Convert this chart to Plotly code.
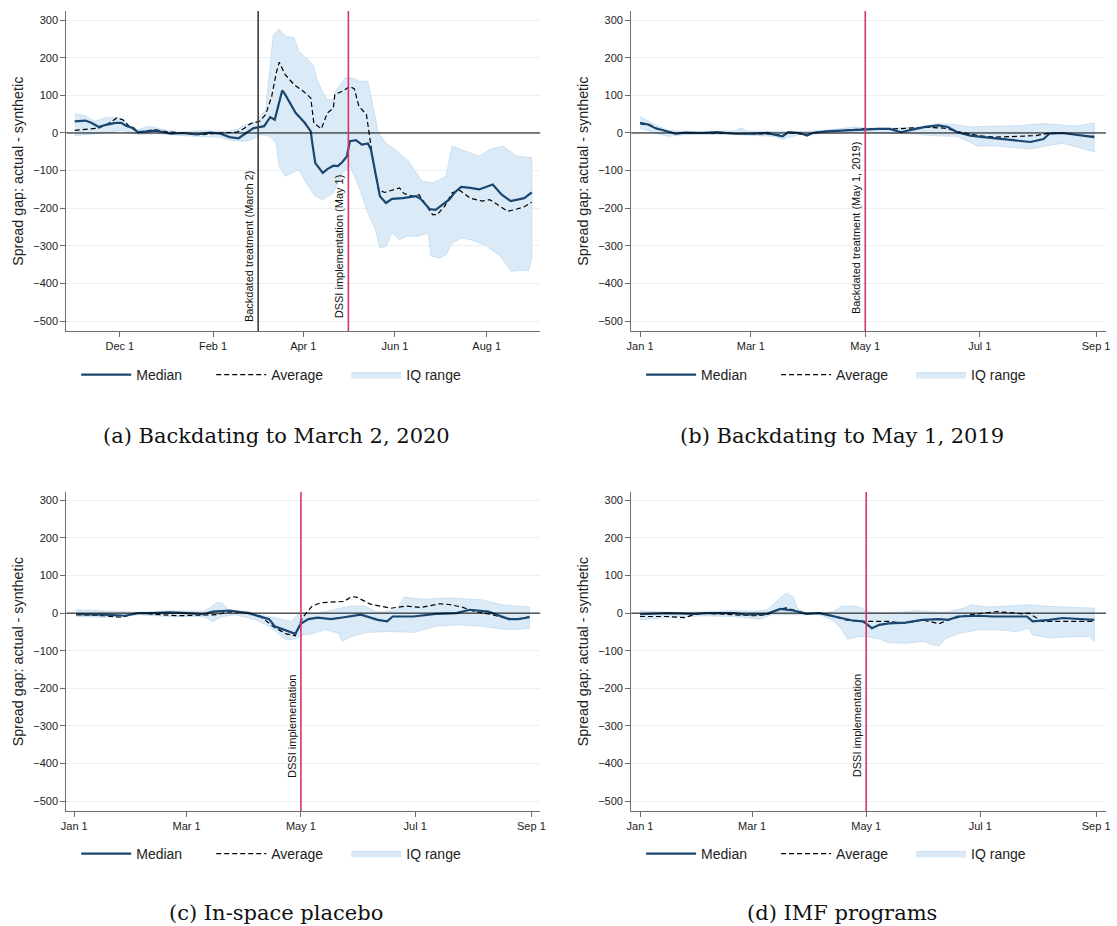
import plotly.graph_objects as go

# ---------------- DATA ----------------
# Panel (a): Backdating to March 2, 2020
a_med_dates = ["2019-11-01","2019-11-08","2019-11-12","2019-11-17","2019-11-21","2019-11-28","2019-12-02","2019-12-05",
               "2019-12-10","2019-12-13","2019-12-20","2019-12-24","2019-12-28","2020-01-04","2020-01-12","2020-01-21",
               "2020-01-30","2020-02-06","2020-02-12","2020-02-18","2020-02-23","2020-02-28","2020-03-06","2020-03-10",
               "2020-03-13","2020-03-17","2020-03-18","2020-03-20","2020-03-23","2020-03-27","2020-04-02","2020-04-06",
               "2020-04-07","2020-04-09","2020-04-14","2020-04-17","2020-04-21","2020-04-24","2020-04-27","2020-04-30",
               "2020-05-02","2020-05-06","2020-05-10","2020-05-14","2020-05-16","2020-05-19","2020-05-22","2020-05-26",
               "2020-05-30","2020-06-06","2020-06-10","2020-06-15","2020-06-18","2020-06-24","2020-06-28","2020-07-03",
               "2020-07-07","2020-07-11","2020-07-15","2020-07-21","2020-07-27","2020-08-05","2020-08-11","2020-08-17",
               "2020-08-21","2020-08-26","2020-08-31"]
a_med = [31, 33, 27, 16, 21, 27, 27, 19, 13, 2, 4, 6, 4, -2, 0, -4, 1, -2, -11, -14, 0, 13, 18, 42, 35, 97, 113, 102,
         80, 53, 27, 4, -27, -80, -106, -96, -87, -88, -77, -62, -22, -19, -31, -28, -44, -106, -168, -186, -175, -173,
         -171, -168, -175, -202, -204, -188, -177, -157, -143, -146, -150, -137, -164, -181, -177, -173, -158]

a_avg_dates = ["2019-11-01","2019-11-12","2019-11-17","2019-11-23","2019-11-29","2019-12-03","2019-12-07","2019-12-13",
               "2019-12-24","2019-12-31","2020-01-09","2020-01-24","2020-02-06","2020-02-17","2020-02-22","2020-02-26",
               "2020-03-03","2020-03-07","2020-03-11","2020-03-14","2020-03-16","2020-03-20","2020-03-26","2020-04-01",
               "2020-04-06","2020-04-08","2020-04-13","2020-04-17","2020-04-21","2020-04-22","2020-04-27","2020-05-02",
               "2020-05-05","2020-05-08","2020-05-13","2020-05-15","2020-05-18","2020-05-21","2020-05-25","2020-05-30",
               "2020-06-04","2020-06-07","2020-06-13","2020-06-17","2020-06-22","2020-06-26","2020-06-29","2020-07-04",
               "2020-07-09","2020-07-14","2020-07-21","2020-07-29","2020-08-03","2020-08-09","2020-08-15","2020-08-21",
               "2020-08-26","2020-08-31"]
a_avg = [7, 11, 13, 24, 40, 35, 18, 2, 9, 4, 0, -5, 0, 2, 13, 25, 31, 49, 97, 159, 188, 155, 128, 111, 93, 27, 11, 53,
         66, 102, 111, 124, 117, 71, 49, -9, -88, -150, -158, -152, -146, -161, -168, -164, -195, -217, -217, -195,
         -159, -152, -173, -181, -177, -193, -208, -202, -196, -184]

a_iq_hi_dates = ["2019-11-01","2019-11-08","2019-11-14","2019-11-21","2019-11-28","2019-12-04","2019-12-11","2019-12-20",
                 "2019-12-28","2020-01-09","2020-01-26","2020-02-08","2020-02-17","2020-02-22","2020-03-01","2020-03-07",
                 "2020-03-10","2020-03-12","2020-03-16","2020-03-20","2020-03-26","2020-03-29","2020-04-04","2020-04-08",
                 "2020-04-10","2020-04-14","2020-04-17","2020-04-21","2020-04-23","2020-04-29","2020-05-04","2020-05-08",
                 "2020-05-14","2020-05-17","2020-05-21","2020-05-26","2020-06-01","2020-06-10","2020-06-19","2020-06-26",
                 "2020-07-05","2020-07-09","2020-07-18","2020-07-27","2020-08-03","2020-08-12","2020-08-21","2020-08-31"]
a_iq_hi = [51, 46, 31, 40, 42, 35, 6, 18, 11, 2, 6, 4, 9, 22, 31, 62, 177, 260, 276, 257, 252, 217, 195, 177, 142, 108,
           88, 88, 115, 146, 146, 137, 137, 80, 0, -27, -44, -75, -128, -133, -115, -35, -49, -62, -44, -35, -62, -66]

a_iq_lo_dates = ["2019-11-01","2019-11-12","2019-11-21","2019-12-02","2019-12-09","2019-12-13","2019-12-24","2020-01-04",
                 "2020-01-21","2020-02-06","2020-02-12","2020-02-21","2020-02-27","2020-03-03","2020-03-10","2020-03-14",
                 "2020-03-16","2020-03-20","2020-03-25","2020-03-29","2020-04-03","2020-04-09","2020-04-14","2020-04-21",
                 "2020-04-27","2020-05-02","2020-05-08","2020-05-14","2020-05-19","2020-05-22","2020-05-26","2020-05-30",
                 "2020-06-04","2020-06-09","2020-06-17","2020-06-23","2020-06-25","2020-07-01","2020-07-05","2020-07-09",
                 "2020-07-15","2020-07-23","2020-08-01","2020-08-10","2020-08-17","2020-08-23","2020-08-29","2020-08-31"]
a_iq_lo = [-7, -4, 0, 7, 0, -4, -2, -4, -9, -11, -19, -22, -18, -4, -9, -27, -88, -115, -106, -97, -133, -168, -177,
           -159, -106, -88, -142, -212, -257, -305, -301, -265, -283, -274, -274, -265, -327, -332, -323, -292, -279,
           -285, -301, -327, -367, -365, -365, -332]

# Panel (b): Backdating to May 1, 2019
b_med_dates = ["2019-01-01","2019-01-06","2019-01-09","2019-01-15","2019-01-20","2019-01-25","2019-02-03","2019-02-11",
               "2019-02-20","2019-03-01","2019-03-10","2019-03-13","2019-03-18","2019-03-21","2019-03-27","2019-03-31",
               "2019-04-03","2019-04-10","2019-04-21","2019-04-30","2019-05-08","2019-05-14","2019-05-20","2019-05-26",
               "2019-06-02","2019-06-09","2019-06-14","2019-06-19","2019-06-26","2019-07-03","2019-07-14","2019-07-23",
               "2019-07-28","2019-08-04","2019-08-07","2019-08-14","2019-08-21","2019-08-31"]
b_med = [27, 22, 13, 4, -2, 1, 0, 2, -2, -2, 0, -4, -9, 2, 0, -7, 0, 4, 7, 9, 11, 11, 2, 9, 16, 20, 16, 2, -7, -11,
         -16, -22, -24, -16, -2, 0, -4, -11]

b_avg_dates = ["2019-01-01","2019-01-06","2019-01-09","2019-01-15","2019-01-20","2019-02-03","2019-02-20","2019-03-01",
               "2019-03-13","2019-03-18","2019-03-21","2019-03-31","2019-04-03","2019-04-17","2019-04-30","2019-05-17",
               "2019-06-02","2019-06-12","2019-06-19","2019-06-30","2019-07-09","2019-07-21","2019-07-31","2019-08-07",
               "2019-08-14","2019-08-21","2019-08-31"]
b_avg = [25, 20, 12, 4, -1, 0, -1, -1, -3, -7, 1, -5, 1, 6, 11, 11, 15, 13, 4, -7, -11, -9, -7, 0, 0, -4, -9]

b_iq_hi_dates = ["2019-01-01","2019-01-09","2019-01-16","2019-01-25","2019-02-20","2019-02-24","2019-02-27","2019-03-13",
                 "2019-03-27","2019-04-10","2019-04-26","2019-05-01","2019-05-17","2019-05-30","2019-06-09","2019-06-18",
                 "2019-06-26","2019-07-07","2019-07-21","2019-08-04","2019-08-21","2019-08-31"]
b_iq_hi = [44, 22, 7, 4, 5, 13, 5, 4, 4, 7, 16, 13, 13, 16, 25, 22, 16, 18, 19, 25, 18, 27]

b_iq_lo_dates = ["2019-01-01","2019-01-09","2019-01-16","2019-01-25","2019-02-20","2019-03-13","2019-03-18","2019-03-27",
                 "2019-04-26","2019-05-01","2019-05-26","2019-06-05","2019-06-19","2019-06-30","2019-07-09","2019-07-21",
                 "2019-07-28","2019-08-04","2019-08-14","2019-08-31"]
b_iq_lo = [13, 0, -9, -4, -4, -9, -16, -4, 0, 0, -2, -7, -9, -35, -34, -40, -42, -35, -27, -50]

# Panel (c): In-space placebo
c_med_dates = ["2020-01-02","2020-01-17","2020-01-28","2020-02-04","2020-02-12","2020-02-21","2020-03-01","2020-03-10",
               "2020-03-15","2020-03-24","2020-04-03","2020-04-09","2020-04-14","2020-04-17","2020-04-23","2020-04-28",
               "2020-05-01","2020-05-05","2020-05-10","2020-05-17","2020-05-24","2020-06-02","2020-06-11","2020-06-16",
               "2020-06-19","2020-06-30","2020-07-12","2020-07-23","2020-07-30","2020-08-09","2020-08-20","2020-08-25",
               "2020-08-31"]
c_med = [-3, -4, -7, 0, 0, 2, 0, -3, 4, 7, 0, -9, -16, -35, -46, -55, -28, -16, -12, -16, -11, -4, -18, -22, -9, -9,
         -2, 0, 9, 4, -16, -16, -11]

c_avg_dates = ["2020-01-02","2020-01-17","2020-01-26","2020-02-04","2020-02-25","2020-03-10","2020-03-17","2020-03-24",
               "2020-04-03","2020-04-09","2020-04-16","2020-04-23","2020-04-28","2020-05-01","2020-05-03","2020-05-07",
               "2020-05-12","2020-05-24","2020-05-28","2020-05-31","2020-06-07","2020-06-18","2020-06-26","2020-07-04",
               "2020-07-14","2020-07-19","2020-07-26","2020-08-02","2020-08-11","2020-08-18","2020-08-25","2020-08-31"]
c_avg = [-4, -7, -11, 0, -7, -4, -4, 4, 0, -7, -35, -55, -60, -20, -5, 19, 28, 31, 44, 42, 24, 13, 19, 15, 25, 23, 16,
         4, -4, -13, -16, -9]

c_iq_hi_dates = ["2020-01-02","2020-01-17","2020-02-04","2020-02-21","2020-03-10","2020-03-13","2020-03-17","2020-03-20",
                 "2020-03-24","2020-04-03","2020-04-07","2020-04-14","2020-04-21","2020-04-26","2020-04-30","2020-05-01",
                 "2020-05-10","2020-05-28","2020-06-04","2020-06-11","2020-06-21","2020-06-25","2020-07-05","2020-07-19",
                 "2020-08-06","2020-08-16","2020-08-31"]
c_iq_hi = [9, 5, 2, 6, 5, 13, 28, 27, 4, 5, -4, -9, -16, -22, 0, -4, 0, 19, 19, 2, 9, 42, 37, 40, 35, 22, 16]

c_iq_lo_dates = ["2020-01-02","2020-01-17","2020-02-04","2020-02-21","2020-03-10","2020-03-15","2020-03-20","2020-03-27",
                 "2020-04-07","2020-04-14","2020-04-23","2020-04-28","2020-05-01","2020-05-07","2020-05-14","2020-05-21",
                 "2020-05-23","2020-05-28","2020-06-05","2020-06-18","2020-06-30","2020-07-12","2020-07-23","2020-08-06",
                 "2020-08-16","2020-08-23","2020-08-31"]
c_iq_lo = [-9, -11, -4, -9, -9, -22, -9, -4, -18, -35, -71, -69, -58, -55, -44, -53, -75, -62, -51, -49, -51, -35, -31,
           -35, -42, -44, -40]

# Panel (d): IMF programs
d_med_dates = ["2020-01-01","2020-01-16","2020-01-30","2020-02-06","2020-02-20","2020-02-27","2020-03-09","2020-03-16",
               "2020-03-23","2020-03-30","2020-04-06","2020-04-13","2020-04-18","2020-04-23","2020-04-29","2020-05-01",
               "2020-05-04","2020-05-08","2020-05-13","2020-05-22","2020-05-31","2020-06-09","2020-06-14","2020-06-19",
               "2020-06-30","2020-07-08","2020-07-26","2020-07-29","2020-08-07","2020-08-14","2020-08-31"]
d_med = [-3, 0, -2, 0, 0, -4, -2, 11, 7, -2, 0, -7, -13, -19, -22, -28, -40, -31, -27, -25, -18, -16, -18, -9, -7, -9,
         -9, -22, -18, -13, -18]

d_avg_dates = ["2020-01-01","2020-01-16","2020-01-25","2020-01-30","2020-02-04","2020-02-20","2020-03-02","2020-03-09",
               "2020-03-14","2020-03-19","2020-03-26","2020-03-30","2020-04-06","2020-04-13","2020-04-20","2020-04-27",
               "2020-05-01","2020-05-13","2020-05-22","2020-05-31","2020-06-09","2020-06-15","2020-06-26","2020-07-03",
               "2020-07-10","2020-07-24","2020-07-27","2020-08-03","2020-08-14","2020-08-31"]
d_avg = [-9, -9, -12, -4, 0, -3, -7, -4, 7, 14, 4, -2, 0, -7, -18, -22, -22, -22, -27, -18, -28, -16, -4, 0, 4, -2,
         0, -22, -22, -22]

d_iq_hi_dates = ["2020-01-01","2020-01-16","2020-02-04","2020-02-20","2020-03-02","2020-03-09","2020-03-12","2020-03-19",
                 "2020-03-23","2020-03-25","2020-03-30","2020-04-06","2020-04-13","2020-04-18","2020-04-25","2020-04-29",
                 "2020-05-01","2020-05-08","2020-05-18","2020-05-29","2020-06-09","2020-06-14","2020-06-22","2020-06-26",
                 "2020-07-06","2020-07-20","2020-07-27","2020-08-07","2020-08-21","2020-08-31"]
d_iq_hi = [6, 2, 3, 7, 5, 9, 22, 53, 44, 13, 2, 0, 4, 18, 19, 13, 4, 0, 2, 7, 2, 4, 13, 22, 16, 19, 22, 18, 16, 13]

d_iq_lo_dates = ["2020-01-01","2020-01-16","2020-02-04","2020-02-20","2020-03-05","2020-03-12","2020-03-26","2020-04-06",
                 "2020-04-13","2020-04-18","2020-04-21","2020-04-27","2020-05-01","2020-05-08","2020-05-13","2020-05-22",
                 "2020-06-01","2020-06-05","2020-06-09","2020-06-12","2020-06-19","2020-06-30","2020-07-10","2020-07-20",
                 "2020-07-27","2020-07-29","2020-08-07","2020-08-21","2020-08-28","2020-08-31"]
d_iq_lo = [-18, -11, -7, -9, -16, -4, -4, -4, -18, -44, -69, -62, -62, -69, -78, -80, -75, -84, -87, -69, -55, -44,
           -44, -49, -40, -58, -66, -62, -62, -75]

# Axis ticks
a_tick_dates = ["2019-12-01", "2020-02-01", "2020-04-01", "2020-06-01", "2020-08-01"]
a_tick_labels = ["Dec 1", "Feb 1", "Apr 1", "Jun 1", "Aug 1"]
b_tick_dates = ["2019-01-01", "2019-03-01", "2019-05-01", "2019-07-01", "2019-09-01"]
cd_tick_dates = ["2020-01-01", "2020-03-01", "2020-05-01", "2020-07-01", "2020-09-01"]
bcd_tick_labels = ["Jan 1", "Mar 1", "May 1", "Jul 1", "Sep 1"]
y_tick_vals = [-500, -400, -300, -200, -100, 0, 100, 200, 300]

captions = ["(a) Backdating to March 2, 2020", "(b) Backdating to May 1, 2019",
            "(c) In-space placebo", "(d) IMF programs"]

# ---------------- STYLE ----------------
W, H = 1117, 926
MED_C = "#1a476f"
FILL_C = "#dbeaf7"
EDGE_C = "#c2dbf0"
RED_C = "#d8336b"
GRID_C = "#e9f1f3"
AXIS_C = "#6e6e6e"
SANS = "Liberation Sans, Arial, sans-serif"

def px(v, total):
    return v / total

xdom = {"L": [px(61, W), px(540, W)], "R": [px(632, W), px(1112, W)]}
ydom = {"T": [1 - px(331, H), 1 - px(11, H)], "B": [1 - px(811, H), 1 - px(492, H)]}

panels = [
    dict(med=(a_med_dates, a_med), avg=(a_avg_dates, a_avg), hi=(a_iq_hi_dates, a_iq_hi), lo=(a_iq_lo_dates, a_iq_lo),
         ticks=(a_tick_dates, a_tick_labels), xr=["2019-10-26 10:00", "2020-09-05 14:00"], yr=[-526, 324],
         xd="L", yd="T"),
    dict(med=(b_med_dates, b_med), avg=(b_avg_dates, b_avg), hi=(b_iq_hi_dates, b_iq_hi), lo=(b_iq_lo_dates, b_iq_lo),
         ticks=(b_tick_dates, bcd_tick_labels), xr=["2018-12-27 07:00", "2019-09-06 07:00"], yr=[-526, 324],
         xd="R", yd="T"),
    dict(med=(c_med_dates, c_med), avg=(c_avg_dates, c_avg), hi=(c_iq_hi_dates, c_iq_hi), lo=(c_iq_lo_dates, c_iq_lo),
         ticks=(cd_tick_dates, bcd_tick_labels), xr=["2019-12-27 19:00", "2020-09-05 17:00"], yr=[-526, 322],
         xd="L", yd="B"),
    dict(med=(d_med_dates, d_med), avg=(d_avg_dates, d_avg), hi=(d_iq_hi_dates, d_iq_hi), lo=(d_iq_lo_dates, d_iq_lo),
         ticks=(cd_tick_dates, bcd_tick_labels), xr=["2019-12-27 07:00", "2020-09-06 07:00"], yr=[-526, 322],
         xd="R", yd="B"),
]

# vertical reference lines: (panel index, date, color, label, label-center y)
vlines = [
    (0, "2020-03-02", "#3c3c3c", "Backdated treatment (March 2)", -300),
    (0, "2020-05-01", RED_C, "DSSI implementation (May 1)", -300),
    (1, "2019-05-01", RED_C, "Backdated treatment (May 1, 2019)", -252),
    (2, "2020-05-01", RED_C, "DSSI implementation", -300),
    (3, "2020-05-01", RED_C, "DSSI implementation", -300),
]

fig = go.Figure()
layout = dict(width=W, height=H, margin=dict(l=0, r=0, t=0, b=0), paper_bgcolor="white", plot_bgcolor="white",
              font=dict(family=SANS, size=11, color="#222"), showlegend=True)
shapes, annotations = [], []

for i, p in enumerate(panels):
    sfx = "" if i == 0 else str(i + 1)
    xa, ya = "x" + sfx, "y" + sfx
    leg = "legend" if i == 0 else "legend" + str(i + 1)
    hd, hv = p["hi"]
    ld, lv = p["lo"]
    fig.add_trace(go.Scatter(x=hd + ld[::-1], y=hv + lv[::-1], fill="toself", fillcolor=FILL_C,
                             line=dict(color=EDGE_C, width=0.8), mode="lines", name="IQ range",
                             xaxis=xa, yaxis=ya, legend=leg, legendrank=3, hoverinfo="skip"))
    fig.add_trace(go.Scatter(x=p["avg"][0], y=p["avg"][1], mode="lines", name="Average",
                             line=dict(color="black", width=1.2, dash="5px,3px"),
                             xaxis=xa, yaxis=ya, legend=leg, legendrank=2))
    fig.add_trace(go.Scatter(x=p["med"][0], y=p["med"][1], mode="lines", name="Median",
                             line=dict(color=MED_C, width=2.2),
                             xaxis=xa, yaxis=ya, legend=leg, legendrank=1))

    layout["xaxis" + sfx] = dict(domain=xdom[p["xd"]], anchor=ya, type="date", range=p["xr"],
                                 tickvals=p["ticks"][0], ticktext=p["ticks"][1], ticks="outside", ticklen=5,
                                 tickcolor=AXIS_C, showline=True, linecolor=AXIS_C, linewidth=1.2,
                                 showgrid=False, zeroline=False, tickfont=dict(size=11, color="#222"))
    layout["yaxis" + sfx] = dict(domain=ydom[p["yd"]], anchor=xa, range=p["yr"], tickvals=y_tick_vals,
                                 ticks="outside", ticklen=5, tickcolor=AXIS_C, showline=True, linecolor=AXIS_C,
                                 linewidth=1.2, showgrid=True, gridcolor=GRID_C, gridwidth=1, zeroline=False,
                                 tickfont=dict(size=11, color="#222"))
    # zero line
    shapes.append(dict(type="line", xref=xa + " domain", yref=ya, x0=0, x1=1, y0=0, y1=0,
                       line=dict(color="black", width=1), layer="above"))
    # y-axis title
    yd = ydom[p["yd"]]
    xl = px(12, W) if p["xd"] == "L" else px(583, W)
    annotations.append(dict(text="Spread gap: actual - synthetic", xref="paper", yref="paper", x=xl,
                            y=(yd[0] + yd[1]) / 2, textangle=-90, showarrow=False, xanchor="center",
                            yanchor="middle", font=dict(size=14.3, color="#222")))
    # legend
    lx = px(71, W) if p["xd"] == "L" else px(642, W)
    ly = 1 - px(359, H) if p["yd"] == "T" else 1 - px(838, H)
    layout[leg] = dict(orientation="h", x=lx, y=ly, xanchor="left", yanchor="top", font=dict(size=14, color="#222"),
                       bgcolor="rgba(0,0,0,0)", traceorder="normal", entrywidth=70, itemwidth=50)
    # caption
    cx = px(273, W) if p["xd"] == "L" else px(845, W)
    cy = 1 - px(436, H) if p["yd"] == "T" else 1 - px(913, H)
    annotations.append(dict(text=captions[i], xref="paper", yref="paper", x=cx, y=cy, showarrow=False,
                            xanchor="center", yanchor="middle",
                            font=dict(family="DejaVu Serif, serif", size=21, color="#111")))

for (pi, d, col, lab, yc) in vlines:
    sfx = "" if pi == 0 else str(pi + 1)
    xa, ya = "x" + sfx, "y" + sfx
    shapes.append(dict(type="line", xref=xa, yref=ya + " domain", x0=d, x1=d, y0=0, y1=1,
                       line=dict(color=col, width=1.6), layer="above"))
    annotations.append(dict(text=lab, xref=xa, yref=ya, x=d, y=yc, textangle=-90, showarrow=False,
                            xanchor="right", yanchor="middle", xshift=-1,
                            font=dict(size=11, color="#111")))

layout["shapes"] = shapes
layout["annotations"] = annotations
fig.update_layout(**layout)
fig.write_html("out.html")
